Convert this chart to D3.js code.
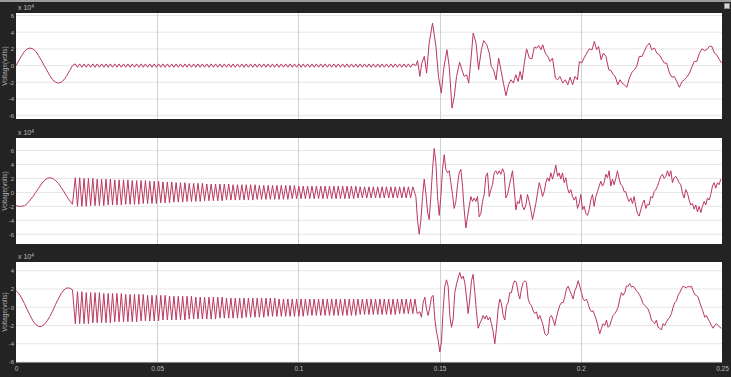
<!DOCTYPE html>
<html>
<head>
<meta charset="utf-8">
<script src="https://cdn.jsdelivr.net/npm/d3@7"></script>
<style>
  html, body { margin: 0; padding: 0; background: #232323; }
  svg { display: block; font-family: "Liberation Sans", Arial, sans-serif; }
</style>
</head>
<body>
<svg id="chart" width="731" height="377"></svg>
<script>
// ---- data (voltages in units of 1e4 V, times in ms) ----
const xTicks = [0, 0.05, 0.1, 0.15, 0.2, 0.25];
const xTickLabels = ['0', '0.05', '0.1', '0.15', '0.2', '0.25'];
const yTicksA = [-6, -4, -2, 0, 2, 4, 6];
const yTicksB = [-6, -4, -2, 0, 2, 4];
const yLabel = 'Voltage(volts)';
const scaleNote = 'x 10';
const scaleExp = '4';

// first 50 Hz cycle, one sample per ms from 0 to 20 ms
const sineStepMs = 1;
const p1Sine = [0,0.6,1.2,1.7,2.0,2.1,2.0,1.7,1.2,0.6,0,-0.6,-1.2,-1.7,-2.0,-2.1,-2.0,-1.7,-1.2,-0.6,0];
const p2Sine = [-1.9,-2.0,-2.0,-1.9,-1.6,-1.1,-0.6,0.0,0.6,1.2,1.7,2.0,2.1,2.0,1.7,1.3,0.7,0.1,-0.6,-1.2,-1.7];
const p3Sine = [1.8,1.5,1.0,0.4,-0.3,-0.9,-1.5,-1.9,-2.1,-2.1,-1.9,-1.5,-1.0,-0.4,0.3,0.9,1.5,1.9,2.1,2.1,1.9];

// high frequency oscillation: successive peak / trough values, every half period
const oscStartMs = 21.0;
const oscHalfMs = 0.776;
const p1Osc = [
  0.2,-0.2,0.2,-0.2,0.2,-0.2,0.2,-0.2,0.2,-0.2,0.2,-0.2,0.2,-0.2,0.2,-0.2,0.2,-0.2,0.2,-0.2,
  0.2,-0.2,0.2,-0.2,0.2,-0.2,0.2,-0.2,0.2,-0.2,0.2,-0.2,0.2,-0.2,0.2,-0.2,0.2,-0.2,0.2,-0.2,
  0.2,-0.2,0.2,-0.2,0.2,-0.2,0.2,-0.2,0.2,-0.2,0.2,-0.2,0.2,-0.2,0.2,-0.2,0.2,-0.2,0.2,-0.2,
  0.2,-0.2,0.2,-0.2,0.2,-0.2,0.2,-0.2,0.2,-0.2,0.2,-0.2,0.2,-0.2,0.2,-0.2,0.2,-0.2,0.2,-0.2,
  0.2,-0.2,0.2,-0.2,0.2,-0.2,0.2,-0.2,0.2,-0.2,0.2,-0.2,0.2,-0.2,0.2,-0.2,0.2,-0.2,0.2,-0.2,
  0.2,-0.2,0.2,-0.2,0.2,-0.2,0.2,-0.2,0.2,-0.2,0.2,-0.2,0.2,-0.2,0.2,-0.2,0.2,-0.2,0.2,-0.2,
  0.2,-0.2,0.2,-0.2,0.2,-0.2,0.2,-0.2,0.2,-0.2,0.2,-0.2,0.2,-0.2,0.2,-0.2,0.2,-0.2,0.2,-0.2,
  0.2,-0.2,0.2,-0.2,0.2,-0.2,0.2,-0.2,0.2,-0.2,0.2,-0.2,0.2,-0.2,0.2
];
const p2Osc = [
  2.1,-2.0,2.1,-2.0,2.0,-2.0,2.0,-1.9,2.0,-1.9,1.9,-1.9,1.9,-1.9,1.9,-1.8,1.9,-1.8,1.8,-1.8,
  1.8,-1.8,1.8,-1.7,1.8,-1.7,1.7,-1.7,1.7,-1.7,1.7,-1.6,1.7,-1.6,1.6,-1.6,1.6,-1.6,1.6,-1.5,
  1.5,-1.5,1.5,-1.5,1.5,-1.4,1.4,-1.4,1.4,-1.4,1.4,-1.3,1.3,-1.3,1.3,-1.3,1.3,-1.3,1.3,-1.2,
  1.2,-1.2,1.2,-1.2,1.2,-1.2,1.2,-1.2,1.2,-1.1,1.2,-1.1,1.1,-1.1,1.1,-1.1,1.1,-1.1,1.1,-1.1,
  1.1,-1.1,1.1,-1.0,1.0,-1.0,1.0,-1.0,1.0,-1.0,1.0,-1.0,1.0,-1.0,1.0,-1.0,1.0,-1.0,1.0,-0.9,
  1.0,-0.9,0.9,-0.9,0.9,-0.9,0.9,-0.9,0.9,-0.9,0.9,-0.9,0.9,-0.9,0.9,-0.9,0.9,-0.9,0.9,-0.9,
  0.9,-0.9,0.9,-0.9,0.9,-0.9,0.9,-0.9,0.9,-0.8,0.8,-0.8,0.8,-0.8,0.8,-0.8,0.8,-0.8,0.8,-0.8,
  0.8,-0.8,0.8,-0.8,0.8,-0.8,0.8,-0.8,0.8,-0.8,0.8,-0.8,0.8,-0.8,0.8
];
const p3Osc = [
  -1.8,1.7,-1.8,1.7,-1.8,1.6,-1.8,1.6,-1.7,1.6,-1.7,1.6,-1.7,1.5,-1.7,1.5,-1.7,1.5,-1.6,1.5,
  -1.6,1.5,-1.6,1.4,-1.6,1.4,-1.6,1.4,-1.6,1.4,-1.5,1.4,-1.5,1.3,-1.5,1.3,-1.5,1.3,-1.5,1.3,
  -1.4,1.3,-1.4,1.2,-1.4,1.2,-1.4,1.2,-1.4,1.2,-1.4,1.2,-1.3,1.2,-1.3,1.1,-1.3,1.1,-1.3,1.1,
  -1.3,1.1,-1.3,1.1,-1.3,1.1,-1.2,1.1,-1.2,1.0,-1.2,1.0,-1.2,1.0,-1.2,1.0,-1.2,1.0,-1.1,1.0,
  -1.1,1.0,-1.1,1.0,-1.1,1.0,-1.1,1.0,-1.0,1.0,-1.0,1.0,-1.0,0.9,-1.0,0.9,-1.0,0.9,-1.0,0.9,
  -1.0,0.9,-1.0,0.9,-1.0,0.9,-0.9,0.9,-0.9,0.9,-0.9,0.9,-0.9,0.9,-0.9,0.9,-0.9,0.9,-0.9,0.9,
  -0.9,0.9,-0.9,0.9,-0.9,0.9,-0.9,0.9,-0.9,0.9,-0.8,0.9,-0.8,0.9,-0.8,0.9,-0.8,0.9,-0.8,0.9,
  -0.8,0.9,-0.8,0.9,-0.8,0.9,-0.8,0.9,-0.7,0.9,-0.7,0.9,-0.7,0.9,-0.7,0.9,-0.7
];

// after the fault (~0.142 s)
const p1Fault = [
  [141.6,0],[142.2,0.6],[143.0,-1.3],[143.7,0.3],[144.6,1.1],[145.4,-0.9],[146.3,2.7],[147.5,5.1],
  [148.7,2.3],[149.6,-1.3],[150.6,-3.3],[151.4,-0.5],[152.6,1.9],[153.4,-0.1],[154.4,-5.1],[155.2,-3.7],
  [156.0,-1.3],[157.1,0.4],[157.9,-0.5],[158.7,-1.3],[159.6,-1.1],[160.3,-2.1],[161.1,0.7],[161.9,3.9],
  [162.9,2.7],[163.8,-0.5],[164.8,1.9],[165.6,3.0],[166.7,2.5],[167.6,1.5],[168.3,-0.1],[169.1,-0.5],
  [170.0,-1.7],[170.9,0.9],[171.7,-0.5],[172.6,-2.1],[173.5,-3.6],[174.4,-2.3],[175.3,-1.7],[176.1,-2.1],
  [177.0,-1.1],[177.8,-1.9],[178.5,-0.7],[179.2,-1.7],[180.0,0.3],[180.8,2.0],[181.8,0.9],[182.7,0.8],
  [183.5,2.2],[184.4,2.1],[185.1,2.4],[185.9,1.9],[186.5,2.5],[187.4,1.5],[188.3,1.1],[189.1,0.5],
  [190.0,0.9],[191.0,-1.5],[191.8,-1.7],[192.6,-1.3],[193.6,-2.1],[194.5,-1.7],[195.4,-2.3],[196.2,-1.4],
  [197.1,-2.3],[197.9,-1.3],[198.8,-1.7],[199.5,0.5],[200.3,0.3],[201.3,1.0],[202.1,1.5],[203.0,2.0],
  [204.0,1.9],[204.8,2.9],[205.6,1.9],[206.3,2.3],[207.2,0.7],[208.0,1.5],[208.9,1.1],[209.9,-0.5],
  [210.7,-0.6],[211.5,-1.1],[212.2,-1.3],[213.1,-2.3],[213.9,-1.7],[214.6,-2.1],[215.4,-2.3],[216.3,-2.6],
  [217.2,-1.5],[218.1,-0.8],[219.0,-0.5],[219.8,-0.1],[220.7,1.1],[221.7,1.1],[222.5,1.7],[223.3,2.3],
  [224.3,2.7],[225.1,1.9],[226.1,2.1],[226.9,1.5],[227.8,1.3],[228.8,0.7],[229.6,0.3],[230.4,0.3],
  [231.4,-0.9],[232.3,-1.4],[233.1,-1.3],[234.0,-1.9],[234.9,-2.6],[235.9,-1.9],[236.7,-1.7],[237.5,-1.4],
  [238.5,-0.9],[239.4,-0.1],[240.2,0.5],[241.1,0.5],[242.0,1.5],[242.9,2.0],[243.8,1.8],[244.6,1.9],
  [245.5,2.3],[246.4,2.3],[247.3,1.5],[248.1,1.3],[249.1,0.7],[249.9,0.3]
];
const faultStepMs = 0.59;
const p2FaultStartMs = 141.6;
const p2Fault = [
  -0.6,-4.0,-6.0,-4.0,-0.6,1.9,-0.1,-2.8,-3.9,-0.6,
  3.3,6.3,4.3,-0.6,-3.3,-0.6,3.3,5.4,3.3,2.8,
  3.1,1.4,-0.3,-2.3,-1.3,1.1,2.8,3.3,0.9,-2.5,
  -5.1,-3.5,-2.0,-0.6,-1.3,-0.8,-1.3,-0.6,-3.5,-3.0,
  -1.3,-0.3,2.3,2.8,-0.6,0.4,1.1,2.8,3.1,2.6,
  3.1,2.6,3.4,2.8,-0.8,-0.3,0.9,2.0,3.1,0.6,
  -2.5,-1.3,-1.6,-0.3,-2.0,-2.5,-1.8,-0.3,-1.3,-2.5,
  -3.9,-2.8,-1.6,-0.1,1.4,0.6,-0.6,0.1,1.4,2.1,
  1.6,2.8,1.9,2.8,3.9,2.3,2.8,1.9,2.8,1.4,
  2.1,0.6,-0.1,0.4,-0.6,-1.1,-0.6,-2.3,-1.6,-0.3,
  -2.5,-2.0,-3.0,-3.3,-2.5,-1.1,-0.3,-2.0,-0.6,0.1,
  0.9,1.6,0.9,1.4,2.6,2.1,3.1,0.9,1.9,1.1,
  2.0,3.1,1.9,1.1,0.9,0.1,0.1,-0.8,-1.3,-0.8,
  -1.6,-0.6,-2.0,-3.0,-3.4,-2.5,-1.6,-1.1,-2.3,-1.7,
  -1.8,-0.6,-0.8,0.1,0.4,0.9,1.6,2.3,2.6,2.0,
  2.3,3.1,2.3,3.1,1.4,2.1,2.3,1.9,1.4,1.1,
  -0.1,-0.8,0.4,-0.1,-1.1,-1.8,-1.6,-2.4,-1.8,-2.8,
  -2.0,-2.9,-2.0,-1.3,-1.8,-0.8,-1.1,-0.3,0.9,1.4,
  0.6,1.4,1.1,1.9
];
const p3FaultStartMs = 143.0;
const p3Fault = [
  -0.5,-1.1,0.5,1.1,-0.2,-0.9,0,1.1,1.3,-1.3,
  -2.7,-3.6,-4.9,-3.8,-0.2,2.3,3.0,2.3,-0.9,-2.2,
  -1.3,1.6,2.5,3.2,3.8,3.1,3.4,2.7,1.1,-0.7,
  0.9,2.9,3.6,1.6,-0.5,-2.3,-1.8,-1.4,-0.9,-1.3,
  -0.9,-1.4,-1.1,-1.8,-2.7,-4.0,-2.3,-0.2,0.9,0.4,
  -0.9,-1.4,0.2,0.5,1.6,1.6,2.5,2.9,2.7,1.6,
  0.9,2.0,2.7,2.9,2.7,0.9,0.4,0.2,-0.4,-0.7,
  -0.5,-1.3,-0.9,-1.4,-2.0,-2.9,-3.1,-2.9,-1.1,-0.9,
  -1.4,-2.0,-1.1,-0.4,0.2,0.5,0.5,1.1,2.0,2.3,
  1.8,1.4,0.9,1.8,2.2,2.9,2.3,1.6,0.9,0.7,
  0.9,0.4,-0.2,-0.5,-0.4,-0.9,-1.4,-2.2,-2.9,-2.3,
  -1.8,-2.0,-1.4,-2.2,-2.0,-1.4,-0.9,-0.7,-0.4,0.0,
  0.9,1.6,1.3,1.6,2.3,2.3,2.6,2.2,2.3,2.1,
  1.8,1.6,1.3,0.9,0.4,0.2,0.0,-0.2,-0.7,-1.4,
  -1.6,-1.8,-1.4,-2.2,-2.3,-2.5,-1.8,-2.0,-1.6,-1.3,
  -1.1,-0.7,0.0,0.5,0.7,1.3,1.6,2.0,2.3,2.2,
  2.1,2.3,2.2,2.3,1.8,1.4,1.3,1.1,0.5,0.0,
  -0.5,-1.1,-0.9,-1.3,-1.6,-2.0,-2.3,-2.0,-1.8,-2.0,
  -2.2,-2.3
];

// ---- build series ----
function series(sine, osc, fault, faultStart) {
  const pts = sine.map((v, i) => [i * sineStepMs / 1000, v]);
  osc.forEach((v, i) => pts.push([(oscStartMs + i * oscHalfMs) / 1000, v]));
  if (faultStart == null) fault.forEach(d => pts.push([d[0] / 1000, d[1]]));
  else fault.forEach((v, i) => pts.push([(faultStart + i * faultStepMs) / 1000, v]));
  return pts;
}

const panels = [
  {top: 13, bottom: 119, domain: [-6.4, 6.3], ticks: yTicksA, data: series(p1Sine, p1Osc, p1Fault)},
  {top: 138, bottom: 244, domain: [-7.4, 7.8], ticks: yTicksA, data: series(p2Sine, p2Osc, p2Fault, p2FaultStartMs)},
  {top: 262, bottom: 362, domain: [-6, 4.95], ticks: yTicksB, data: series(p3Sine, p3Osc, p3Fault, p3FaultStartMs)}
];

// ---- draw ----
const W = 731, H = 377, L = 16, R = 722;
const svg = d3.select('#chart');
svg.append('rect').attr('width', W).attr('height', H).attr('fill', '#232323');
svg.append('rect').attr('width', W).attr('height', 2).attr('fill', '#9c9c9c');
svg.append('rect').attr('x', 724.5).attr('y', 3.5).attr('width', 5).attr('height', 5)
  .attr('fill', '#d8d8d8').attr('stroke', '#8a8a8a').attr('stroke-width', 1);

const x = d3.scaleLinear().domain([0, 0.25]).range([L, R]);
const gridX = xTicks.slice(1, -1);

panels.forEach((p, k) => {
  const y = d3.scaleLinear().domain(p.domain).range([p.bottom, p.top]);
  const g = svg.append('g');

  g.append('rect').attr('x', L).attr('y', p.top).attr('width', R - L).attr('height', p.bottom - p.top)
    .attr('fill', '#ffffff');

  g.selectAll('line.hgrid').data(p.ticks).join('line').attr('class', 'hgrid')
    .attr('x1', L).attr('x2', R).attr('y1', d => y(d)).attr('y2', d => y(d))
    .attr('stroke', '#e6e6e6').attr('stroke-width', 1);

  g.selectAll('line.vgrid').data(gridX).join('line').attr('class', 'vgrid')
    .attr('x1', d => Math.round(x(d)) + 0.5).attr('x2', d => Math.round(x(d)) + 0.5)
    .attr('y1', p.top).attr('y2', p.bottom)
    .attr('stroke', '#d0d0d0').attr('stroke-width', 1);

  const clipId = 'clip' + k;
  svg.append('clipPath').attr('id', clipId).append('rect')
    .attr('x', L).attr('y', p.top).attr('width', R - L).attr('height', p.bottom - p.top);

  const line = d3.line().x(d => x(d[0])).y(d => y(d[1]));
  g.append('path').datum(p.data).attr('clip-path', 'url(#' + clipId + ')')
    .attr('d', line).attr('fill', 'none').attr('stroke', '#bb3860')
    .attr('stroke-width', 1).attr('stroke-linejoin', 'round');

  const ax = g.append('g').attr('transform', 'translate(' + L + ',0)')
    .call(d3.axisLeft(y).tickValues(p.ticks).tickSize(0).tickPadding(2).tickFormat(d => String(d)));
  ax.select('.domain').remove();
  ax.selectAll('text').attr('fill', '#b8b8b8').style('font-size', '6px');

  const note = g.append('text').attr('x', 18).attr('y', p.top - 3)
    .attr('fill', '#bdbdbd').style('font-size', '7px').text(scaleNote);
  note.append('tspan').attr('dy', -2.5).style('font-size', '5px').text(scaleExp);

  g.append('text')
    .attr('transform', 'translate(6.5,' + ((p.top + p.bottom) / 2) + ') rotate(-90)')
    .attr('text-anchor', 'middle').attr('fill', '#b5b5b5').style('font-size', '6.5px')
    .text(yLabel);

  if (k === panels.length - 1) {
    const bx = g.append('g').attr('transform', 'translate(0,' + p.bottom + ')')
      .call(d3.axisBottom(x).tickValues(xTicks).tickSize(0).tickPadding(4)
        .tickFormat((d, i) => xTickLabels[i]));
    bx.select('.domain').remove();
    bx.selectAll('text').attr('fill', '#bdbdbd').style('font-size', '6.5px');
  }
});
</script>
</body>
</html>
